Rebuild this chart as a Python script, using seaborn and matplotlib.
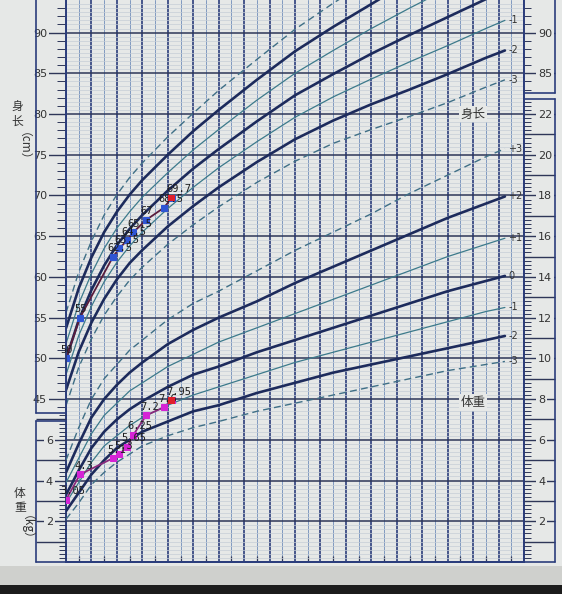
import numpy as np
import pandas as pd
import matplotlib.pyplot as plt
import seaborn as sns
from matplotlib.lines import Line2D
from matplotlib.patches import Rectangle
from matplotlib.ticker import FixedLocator

# ---- data ----
# reference curves (months, z = -3 .. +3)
curve_ages = [0, 1, 2, 3, 4, 5, 6, 8, 10, 12, 15, 18, 21, 24, 27, 30, 33, 34.5]

len_m3 = [44.2, 48.9, 52.4, 55.3, 57.6, 59.6, 61.2, 64.0, 66.4, 68.6, 71.6, 74.2, 76.4, 78.1, 79.7, 81.4, 83.3, 84.2]
len_m2 = [46.1, 50.8, 54.4, 57.3, 59.7, 61.7, 63.3, 66.2, 68.7, 71.0, 74.1, 76.9, 79.2, 81.2, 83.0, 84.9, 86.9, 87.8]
len_m1 = [48.0, 52.8, 56.4, 59.4, 61.8, 63.8, 65.5, 68.4, 71.0, 73.4, 76.6, 79.6, 82.1, 84.3, 86.4, 88.4, 90.5, 91.5]
len_0 = [49.9, 54.7, 58.4, 61.4, 63.9, 65.9, 67.6, 70.6, 73.3, 75.7, 79.1, 82.3, 84.9, 87.4, 89.7, 91.9, 94.1, 95.1]
len_p1 = [51.8, 56.7, 60.4, 63.5, 66.0, 68.0, 69.8, 72.8, 75.6, 78.1, 81.7, 85.0, 87.8, 90.5, 93.0, 95.4, 97.7, 98.8]
len_p2 = [53.7, 58.6, 62.4, 65.5, 68.0, 70.1, 71.9, 75.0, 77.9, 80.5, 84.2, 87.7, 90.7, 93.5, 96.3, 98.9, 101.3, 102.4]
len_p3 = [55.6, 60.6, 64.4, 67.6, 70.1, 72.2, 74.0, 77.2, 80.1, 82.9, 86.7, 90.4, 93.6, 96.6, 99.7, 102.4, 104.9, 106.0]

wt_m3 = [2.1, 2.9, 3.8, 4.4, 4.9, 5.3, 5.7, 6.2, 6.6, 6.9, 7.4, 7.8, 8.2, 8.6, 9.0, 9.4, 9.7, 9.85]
wt_m2 = [2.5, 3.4, 4.3, 5.0, 5.6, 6.0, 6.4, 6.9, 7.4, 7.7, 8.3, 8.8, 9.3, 9.7, 10.1, 10.5, 10.9, 11.1]
wt_m1 = [2.9, 3.9, 4.9, 5.7, 6.2, 6.7, 7.1, 7.7, 8.2, 8.6, 9.2, 9.8, 10.3, 10.8, 11.3, 11.8, 12.3, 12.5]
wt_0 = [3.3, 4.5, 5.6, 6.4, 7.0, 7.5, 7.9, 8.6, 9.2, 9.6, 10.3, 10.9, 11.5, 12.1, 12.7, 13.3, 13.8, 14.05]
wt_p1 = [3.9, 5.1, 6.3, 7.2, 7.8, 8.4, 8.8, 9.6, 10.2, 10.8, 11.5, 12.2, 12.9, 13.6, 14.3, 15.0, 15.6, 15.9]
wt_p2 = [4.4, 5.8, 7.1, 8.0, 8.7, 9.3, 9.8, 10.7, 11.4, 12.0, 12.8, 13.7, 14.5, 15.3, 16.1, 16.9, 17.6, 17.95]
wt_p3 = [5.0, 6.6, 8.0, 9.0, 9.7, 10.4, 10.9, 11.9, 12.7, 13.3, 14.3, 15.3, 16.2, 17.1, 18.1, 19.0, 19.9, 20.3]

z_names = ['-3', '-2', '-1', '0', '+1', '+2', '+3']

# the child's measurements
visit_ages = [0, 1.1, 3.7, 4.2, 4.8, 5.3, 6.3, 7.7, 8.3]
heights = [50, 55, 62.5, 63.5, 64.5, 65.5, 67, 68.5, 69.7]
height_labels = ['50', '55', '62.5', '63.5', '64.5', '65.5', '67', '68.5', '69.7']
weights = [3.05, 4.3, 5.1, 5.3, 5.65, 6.25, 7.2, 7.6, 7.95]
weight_labels = ['3.05', '4.3', '5.1', '5.3', '5.65', '6.25', '7.2', '7.6', '7.95']

# scales: height axis 25-94 cm, weight axis 0-27.6 kg (1 kg = 2.5 cm)
H_MIN, H_MAX = 25, 94
W_MIN, W_MAX = 0, 27.6

# ---- colours ----
PAPER = '#e6e8e7'
NAVY = '#2b3d7c'
GRID_DARK = '#2e3658'
GRID_MINOR = '#c6ced6'
VMINOR = '#7f99c0'
THICK = '#1d2b5c'
THIN = '#3c7a8b'
DASH = '#3f6f86'

sns.set_theme(style='white')
plt.rcParams['font.family'] = ['DejaVu Sans', 'Noto Sans CJK SC']
plt.rcParams['axes.unicode_minus'] = False

W, H = 562, 594
PT = 72 / 100  # px -> pt


def fx(px):
    return px / W


def fy(py):
    return 1 - py / H


AX_L, AX_R, AX_T, AX_B = 66, 524, 0, 562
FRAME_L, FRAME_R = 36, 555


def y_px(h):
    return AX_B - (h - H_MIN) * (AX_B - AX_T) / (H_MAX - H_MIN)


fig = plt.figure(figsize=(5.62, 5.94), dpi=100)
fig.patch.set_facecolor(PAPER)
fig.add_artist(Rectangle((0, 0), 1, fy(566), transform=fig.transFigure,
                         fc='#cfd0cd', ec='none', zorder=0))
fig.add_artist(Rectangle((0, 0), 1, 9 / H, transform=fig.transFigure,
                         fc='#1c1c1c', ec='none', zorder=0))

ax = fig.add_axes([fx(AX_L), fy(AX_B), (AX_R - AX_L) / W, (AX_B - AX_T) / H])
ax.set_facecolor(PAPER)
ax_w = ax.twinx()

# ---- grid ----
ax.set_axisbelow(True)
ax.set_xticks(np.arange(0, 37, 2))
ax.set_xticks(np.arange(1, 36, 2), minor=True)
ax.set_yticks(np.arange(30, 91, 5))
ax.set_yticks(np.arange(25.5, 94, 0.5), minor=True)
ax.grid(which='major', axis='x', color=NAVY, lw=1.2)
ax.grid(which='minor', axis='x', color=VMINOR, lw=0.7)
ax.grid(which='major', axis='y', color=GRID_DARK, lw=1.1)
ax.grid(which='minor', axis='y', color=GRID_MINOR, lw=0.5)
ax.tick_params(axis='y', which='both', left=False, right=False,
               labelleft=False, labelright=False)
ax.tick_params(axis='x', which='major', length=0, labelbottom=False)
ax.tick_params(axis='x', which='minor', direction='in', length=4,
               width=0.9, color=GRID_DARK, bottom=True)
for side in ['left', 'right', 'bottom']:
    ax.spines[side].set_color(NAVY)
    ax.spines[side].set_linewidth(1.4)
ax.spines['top'].set_visible(False)
for s in ax_w.spines.values():
    s.set_visible(False)

# ---- reference curves ----
len_curves = [len_m3, len_m2, len_m1, len_0, len_p1, len_p2, len_p3]
wt_curves = [wt_m3, wt_m2, wt_m1, wt_0, wt_p1, wt_p2, wt_p3]


def curve_style(z):
    if z in ('-3', '+3'):
        return dict(color=DASH, linewidth=1.0, linestyle=(0, (5, 3)))
    if z in ('-1', '+1'):
        return dict(color=THIN, linewidth=0.9, linestyle='-')
    return dict(color=THICK, linewidth=1.9, linestyle='-')


for z, vals in zip(z_names, len_curves):
    sns.lineplot(x=curve_ages, y=vals, ax=ax, **curve_style(z))
    if vals[-1] < H_MAX - 1:
        ax.text(curve_ages[-1] + 0.25, vals[-1], z, fontsize=7, color='#333333',
                ha='left', va='center')

for z, vals in zip(z_names, wt_curves):
    sns.lineplot(x=curve_ages, y=vals, ax=ax_w, **curve_style(z))
    ax_w.text(curve_ages[-1] + 0.25, vals[-1], z, fontsize=7, color='#333333',
              ha='left', va='center')

# ---- measurements ----
sns.lineplot(x=visit_ages, y=heights, ax=ax, color='#5a1d3c', linewidth=1.3,
             marker='s', markersize=4.5, markerfacecolor='#2f55d4',
             markeredgecolor='#2f55d4', sort=False)
sns.scatterplot(x=visit_ages[-1:], y=heights[-1:], ax=ax, marker='s', s=24,
                color='#e0202a', edgecolor='none', zorder=5)
for a, v, t in zip(visit_ages, heights, height_labels):
    ax.annotate(t, (a, v), xytext=(-4, 2.5), textcoords='offset points',
                fontsize=7.5, family='DejaVu Sans Mono', color='#1e1e1e',
                ha='left', va='bottom')

sns.lineplot(x=visit_ages, y=weights, ax=ax_w, color='#8a2a7c', linewidth=1.3,
             marker='s', markersize=4.5, markerfacecolor='#d523d5',
             markeredgecolor='#d523d5', sort=False)
sns.scatterplot(x=visit_ages[-1:], y=weights[-1:], ax=ax_w, marker='s', s=24,
                color='#e0202a', edgecolor='none', zorder=5)
for a, v, t in zip(visit_ages, weights, weight_labels):
    ax_w.annotate(t, (a, v), xytext=(-4, 2.5), textcoords='offset points',
                  fontsize=7.5, family='DejaVu Sans Mono', color='#1e1e1e',
                  ha='left', va='bottom')

# in-chart titles
ax.text(32, 80, '身长', fontsize=9, color='#333333', ha='center', va='center',
        bbox=dict(boxstyle='square,pad=0.15', fc=PAPER, ec='none'))
ax.text(32, 44.6, '体重', fontsize=9, color='#333333', ha='center', va='center',
        bbox=dict(boxstyle='square,pad=0.15', fc=PAPER, ec='none'))

ax.set_xlim(0, 36)
ax.set_ylim(H_MIN, H_MAX)
ax_w.set_ylim(W_MIN, W_MAX)
ax.set_xlabel('')
ax.set_ylabel('')
ax_w.set_ylabel('')

label_box = dict(boxstyle='square,pad=0.15', fc=PAPER, ec='none')


def even_labels(values):
    return [str(v) if v % 2 == 0 else '' for v in values]


# left: height scale
hl = ax.secondary_yaxis('left')
hl.set_yticks(np.arange(45, 91, 5))
hl.yaxis.set_minor_locator(FixedLocator(np.arange(44, 94, 1)))
hl.tick_params(which='major', length=(AX_L - FRAME_L) * PT, width=1.0,
               pad=-11 * PT, labelsize=8, color=GRID_DARK, labelcolor='#333333')
hl.tick_params(which='minor', length=9 * PT, width=0.7, color=GRID_DARK)
plt.setp(hl.get_yticklabels(), bbox=label_box)

# left: weight scale (bottom box)
wl_ticks = np.arange(1, 8)
wl = ax_w.secondary_yaxis('left')
wl.set_yticks(wl_ticks, labels=even_labels(wl_ticks))
wl.yaxis.set_minor_locator(FixedLocator(np.round(np.arange(0.2, 7.3, 0.2), 1)))
wl.tick_params(which='major', length=(AX_L - FRAME_L) * PT, width=1.0,
               pad=-17 * PT, labelsize=8, color=GRID_DARK, labelcolor='#333333')
wl.tick_params(which='minor', length=7 * PT, width=0.7, color=GRID_DARK)
plt.setp(wl.get_yticklabels(), bbox=label_box)

# right: weight scale
wr_ticks = np.arange(1, 23)
ax_w.set_yticks(wr_ticks, labels=even_labels(wr_ticks))
ax_w.yaxis.set_minor_locator(FixedLocator(np.round(np.arange(0.2, 22.7, 0.2), 1)))
ax_w.tick_params(axis='y', which='major', right=True, left=False,
                 length=(FRAME_R - AX_R) * PT, width=1.0, pad=-17 * PT,
                 labelsize=8, color=GRID_DARK, labelcolor='#333333')
ax_w.tick_params(axis='y', which='minor', right=True, left=False,
                 length=7 * PT, width=0.7, color=GRID_DARK)
plt.setp(ax_w.get_yticklabels(), bbox=label_box)

# right: height scale (top box)
hr = ax.secondary_yaxis('right')
hr.set_yticks([85, 90])
hr.yaxis.set_minor_locator(FixedLocator(np.arange(83, 94, 1)))
hr.tick_params(which='major', length=(FRAME_R - AX_R) * PT, width=1.0,
               pad=-17 * PT, labelsize=8, color=GRID_DARK, labelcolor='#333333')
hr.tick_params(which='minor', length=7 * PT, width=0.7, color=GRID_DARK)
plt.setp(hr.get_yticklabels(), bbox=label_box)

for sec in (hl, wl, hr):
    for s in sec.spines.values():
        s.set_visible(False)

# outer frames of the scale boxes
y_hbox, y_wbox = y_px(43.3), y_px(42.3)
y_hr, y_wr = y_px(82.6), y_px(81.8)
frame = [
    ((FRAME_L, 0), (FRAME_L, y_hbox)), ((FRAME_L, y_hbox), (AX_L, y_hbox)),
    ((FRAME_L, y_wbox), (AX_L, y_wbox)), ((FRAME_L, y_wbox), (FRAME_L, AX_B)),
    ((FRAME_L, AX_B), (FRAME_R, AX_B)),
    ((FRAME_R, 0), (FRAME_R, y_hr)), ((AX_R, y_hr), (FRAME_R, y_hr)),
    ((AX_R, y_wr), (FRAME_R, y_wr)), ((FRAME_R, y_wr), (FRAME_R, AX_B)),
]
for (x0, y0), (x1, y1) in frame:
    fig.add_artist(Line2D([fx(x0), fx(x1)], [fy(y0), fy(y1)], color=NAVY,
                          lw=1.2, transform=fig.transFigure))

# axis titles, written vertically (one character per line)
cjk = ['Noto Sans CJK SC', 'DejaVu Sans']
for i, ch in enumerate('身长'):
    fig.text(fx(17), fy(106 + i * 15), ch, fontsize=8.5, color='#333333',
             ha='center', va='center', family=cjk)
fig.text(fx(17), fy(152), '（cm）', fontsize=8.5, color='#333333',
         ha='center', va='center', rotation=270, family=cjk)
for i, ch in enumerate('体重'):
    fig.text(fx(20), fy(494 + i * 14), ch, fontsize=8.5, color='#333333',
             ha='center', va='center', family=cjk)
fig.text(fx(20), fy(533), '（kg）', fontsize=8.5, color='#333333',
         ha='center', va='center', rotation=270, family=cjk)

plt.savefig('out.png', dpi=100, facecolor=fig.get_facecolor())
